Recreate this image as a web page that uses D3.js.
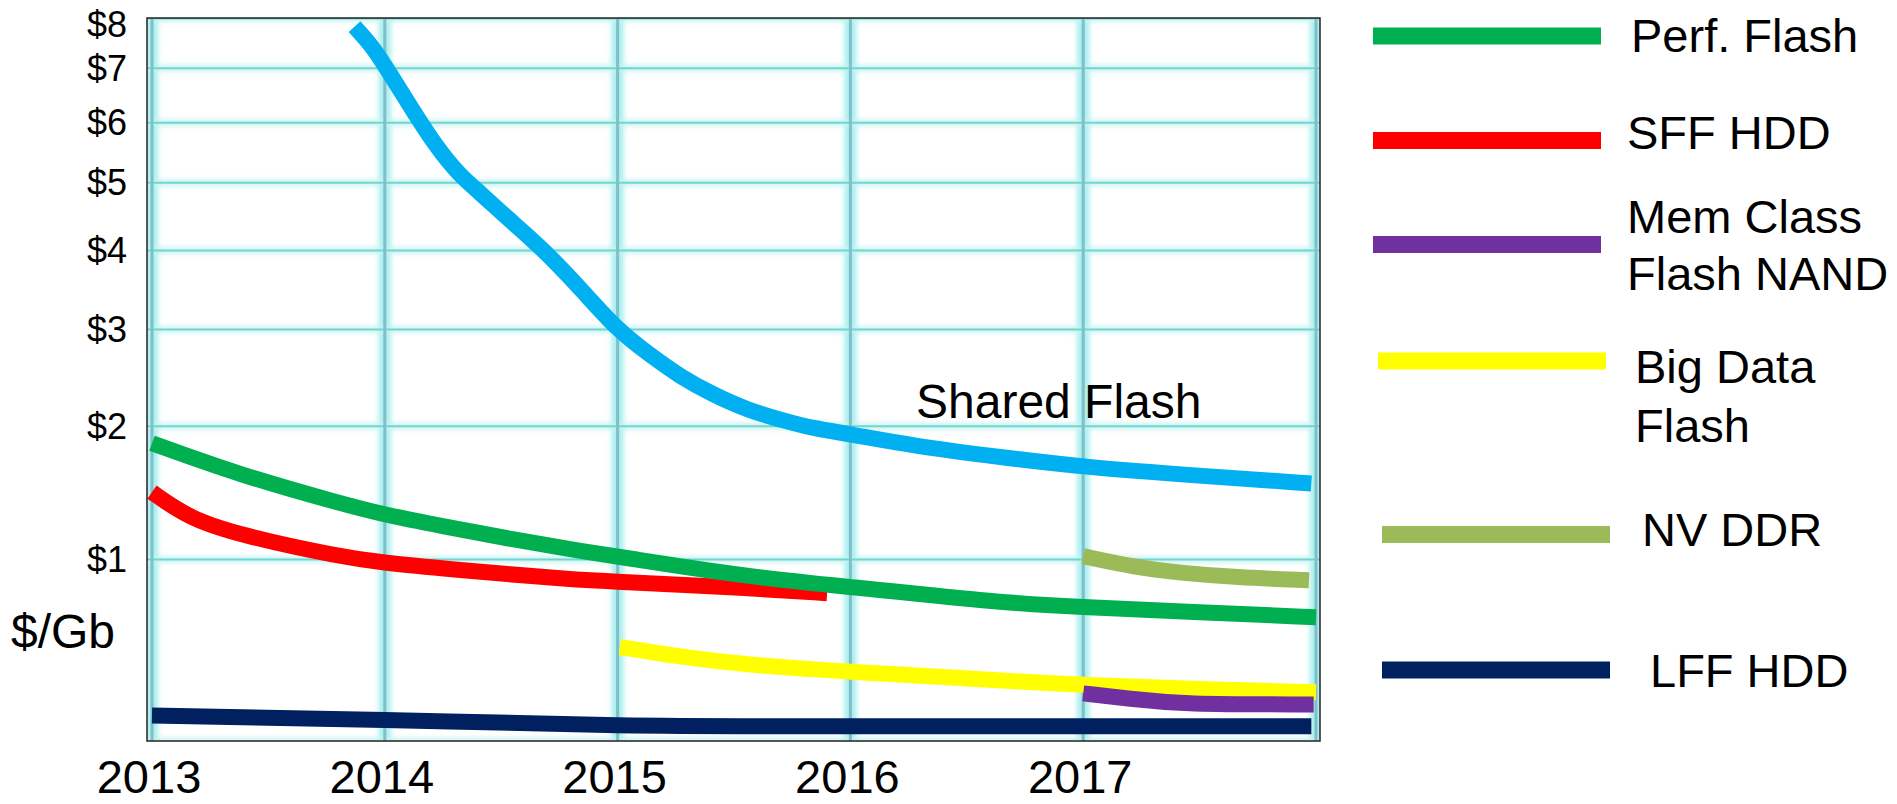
<!DOCTYPE html>
<html>
<head>
<meta charset="utf-8">
<script src="https://cdn.jsdelivr.net/npm/d3@7/dist/d3.min.js"></script>
<style>
  body { margin: 0; background: #fff; }
  svg { display: block; font-family: "Liberation Sans", Arial, sans-serif; }
</style>
</head>
<body>
<svg id="chart" width="1897" height="804"></svg>
<script>

// ---- data ----
var yearTicks = [2013, 2014, 2015, 2016, 2017];
var gridYears = [2013, 2014, 2015, 2016, 2017, 2018];
var priceTicks = [1, 2, 3, 4, 5, 6, 7, 8];

var sharedYears = [2013.87, 2013.95, 2014.03, 2014.12, 2014.22, 2014.32, 2014.41, 2014.52, 2014.67, 2014.84,
                   2015.0, 2015.13, 2015.27, 2015.41, 2015.56, 2015.7, 2015.84, 2016.0, 2016.26, 2016.65,
                   2017.0, 2017.5, 2017.98];
var sharedVals  = [7.83, 7.42, 6.84, 6.22, 5.59, 5.12, 4.84, 4.48, 4.05, 3.50,
                   2.99, 2.73, 2.48, 2.30, 2.15, 2.06, 1.98, 1.93, 1.83, 1.73,
                   1.65, 1.58, 1.52];

var perfYears = [2013.0, 2013.38, 2013.81, 2014.0, 2014.24, 2014.53, 2014.84, 2015.0, 2015.56, 2016.0, 2016.64, 2017.0, 2017.5, 2018.0];
var perfVals  = [1.85, 1.585, 1.371, 1.29, 1.215, 1.13, 1.052, 1.018, 0.899, 0.844, 0.761, 0.738, 0.713, 0.689];

var sffYears = [2013.0, 2013.16, 2013.38, 2013.81, 2014.0, 2014.24, 2014.84, 2015.0, 2015.56, 2015.9];
var sffVals  = [1.454, 1.265, 1.152, 1.016, 0.98, 0.947, 0.88, 0.873, 0.838, 0.81];

var bigDataYears = [2015.01, 2015.27, 2015.56, 2016.0, 2016.13, 2016.64, 2017.0, 2017.5, 2018.0];
var bigDataVals  = [0.555, 0.514, 0.482, 0.457, 0.45, 0.425, 0.408, 0.394, 0.384];

var memYears = [2017.0, 2017.2, 2017.42, 2017.99];
var memVals  = [0.38, 0.362, 0.344, 0.344];

var nvYears = [2017.0, 2017.22, 2017.43, 2017.65, 2017.97];
var nvVals  = [1.02, 0.954, 0.92, 0.897, 0.88];

var lffYears = [2013.0, 2014.0, 2015.0, 2016.0, 2017.0, 2017.98];
var lffVals  = [0.31, 0.298, 0.279, 0.279, 0.279, 0.279];

var legendNames = [["Perf. Flash"], ["SFF HDD"], ["Mem Class", "Flash NAND"], ["Big Data", "Flash"], ["NV DDR"], ["LFF HDD"]];

// ---- layout ----
var svg = d3.select("#chart");

var plot = {left: 147, top: 18, right: 1320, bottom: 741};

var x = d3.scaleLinear()
    .domain([2013, 2018])
    .range([152, 1316]);

// the vertical axis is neither linear nor log: a power of 0.4 fits the ticks
var y = d3.scalePow()
    .exponent(0.4)
    .domain([0.2397, 8])
    .range([741, 18.5]);

var colors = {
  shared: "#00b0f0",
  perf: "#00b050",
  sff: "#ff0000",
  mem: "#7030a0",
  bigData: "#ffff00",
  nv: "#9bbb59",
  lff: "#002060"
};

var defs = svg.append("defs");
defs.append("filter")
    .attr("id", "glow")
    .attr("x", "-50%").attr("y", "-50%").attr("width", "200%").attr("height", "200%")
  .append("feGaussianBlur")
    .attr("stdDeviation", 2.5);
defs.append("clipPath")
    .attr("id", "plotClip")
  .append("rect")
    .attr("x", plot.left)
    .attr("y", plot.top)
    .attr("width", plot.right - plot.left)
    .attr("height", plot.bottom - plot.top);

// ---- grid ----
var grid = svg.append("g").attr("clip-path", "url(#plotClip)");

grid.append("rect")
    .attr("x", plot.left).attr("y", plot.top)
    .attr("width", plot.right - plot.left).attr("height", plot.bottom - plot.top)
    .attr("fill", "#ffffff");

// soft glow under each grid line
var glow = grid.append("g").attr("filter", "url(#glow)");

glow.selectAll(".vglow")
    .data(gridYears)
  .enter().append("line")
    .attr("class", "vglow")
    .attr("x1", function(d) { return x(d); })
    .attr("x2", function(d) { return x(d); })
    .attr("y1", plot.top)
    .attr("y2", plot.bottom)
    .style("stroke", "#a6eeee")
    .style("stroke-width", 12);

glow.selectAll(".hglow")
    .data(priceTicks.concat([0.2397]))
  .enter().append("line")
    .attr("class", "hglow")
    .attr("x1", plot.left)
    .attr("x2", plot.right)
    .attr("y1", function(d) { return y(d); })
    .attr("y2", function(d) { return y(d); })
    .style("stroke", "#c4f3ef")
    .style("stroke-width", 6);

grid.selectAll(".hline")
    .data(priceTicks)
  .enter().append("line")
    .attr("class", "hline")
    .attr("x1", plot.left)
    .attr("x2", plot.right)
    .attr("y1", function(d) { return y(d); })
    .attr("y2", function(d) { return y(d); })
    .style("stroke", "#6fd6d2")
    .style("stroke-width", 2);

grid.selectAll(".vline")
    .data(gridYears)
  .enter().append("line")
    .attr("class", "vline")
    .attr("x1", function(d) { return x(d); })
    .attr("x2", function(d) { return x(d); })
    .attr("y1", plot.top)
    .attr("y2", plot.bottom)
    .style("stroke", "#80bfca")
    .style("stroke-width", 3);

// ---- series ----
function series(years, vals) {
  return years.map(function(d, i) { return [d, vals[i]]; });
}

var line = d3.line()
    .x(function(d) { return x(d[0]); })
    .y(function(d) { return y(d[1]); })
    .curve(d3.curveBasis);

var lines = [
  {data: series(lffYears, lffVals), color: colors.lff},
  {data: series(bigDataYears, bigDataVals), color: colors.bigData},
  {data: series(memYears, memVals), color: colors.mem},
  {data: series(sffYears, sffVals), color: colors.sff},
  {data: series(perfYears, perfVals), color: colors.perf},
  {data: series(nvYears, nvVals), color: colors.nv},
  {data: series(sharedYears, sharedVals), color: colors.shared}
];

svg.append("g")
  .selectAll("path")
    .data(lines)
  .enter().append("path")
    .attr("d", function(d) { return line(d.data); })
    .style("fill", "none")
    .style("stroke", function(d) { return d.color; })
    .style("stroke-width", 16)
    .style("stroke-linecap", "butt")
    .style("stroke-linejoin", "round");

// plot frame
svg.append("rect")
    .attr("x", plot.left).attr("y", plot.top)
    .attr("width", plot.right - plot.left).attr("height", plot.bottom - plot.top)
    .style("fill", "none")
    .style("stroke", "#222")
    .style("stroke-width", 1.5);

// ---- axes text ----
svg.append("g")
  .selectAll("text")
    .data(priceTicks)
  .enter().append("text")
    .attr("x", 127)
    .attr("y", function(d) { return Math.max(y(d), 24); })
    .attr("dy", "0.35em")
    .attr("text-anchor", "end")
    .attr("font-size", 36)
    .text(function(d) { return "$" + d; });

svg.append("g")
  .selectAll("text")
    .data(yearTicks)
  .enter().append("text")
    .attr("x", function(d) { return x(d) - 3; })
    .attr("y", 793)
    .attr("text-anchor", "middle")
    .attr("font-size", 47)
    .text(function(d) { return d; });

svg.append("text")
    .attr("x", 11)
    .attr("y", 648)
    .attr("font-size", 48)
    .text("$/Gb");

svg.append("text")
    .attr("x", 916)
    .attr("y", 418)
    .attr("font-size", 48)
    .text("Shared Flash");

// ---- legend ----
var legendLayout = [
  {x: 1373, y: 36,    tx: 1631, ty: [52]},
  {x: 1373, y: 140.5, tx: 1627, ty: [149]},
  {x: 1373, y: 244.5, tx: 1627, ty: [233, 290]},
  {x: 1378, y: 361,   tx: 1635, ty: [383, 442]},
  {x: 1382, y: 534.5, tx: 1642, ty: [546]},
  {x: 1382, y: 670,   tx: 1650, ty: [687]}
];
var legendColors = [colors.perf, colors.sff, colors.mem, colors.bigData, colors.nv, colors.lff];

var item = svg.append("g")
  .selectAll(".legend")
    .data(legendNames)
  .enter().append("g")
    .attr("class", "legend");

item.append("line")
    .attr("x1", function(d, i) { return legendLayout[i].x; })
    .attr("x2", function(d, i) { return legendLayout[i].x + 228; })
    .attr("y1", function(d, i) { return legendLayout[i].y; })
    .attr("y2", function(d, i) { return legendLayout[i].y; })
    .style("stroke", function(d, i) { return legendColors[i]; })
    .style("stroke-width", 17);

item.each(function(d, i) {
  var g = d3.select(this);
  d.forEach(function(t, j) {
    g.append("text")
        .attr("x", legendLayout[i].tx)
        .attr("y", legendLayout[i].ty[j])
        .attr("font-size", 47)
        .text(t);
  });
});

</script>
</body>
</html>
